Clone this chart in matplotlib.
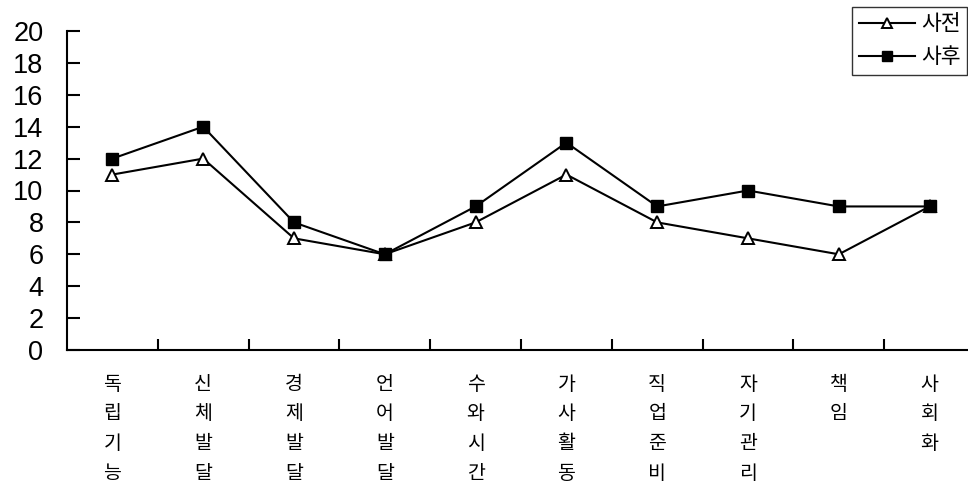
import matplotlib
matplotlib.use("Agg")
import matplotlib.pyplot as plt

categories = ["독립기능", "신체발달", "경제발달", "언어발달", "수와시간",
              "가사활동", "직업준비", "자기관리", "책임", "사회화"]
pre_values = [11, 12, 7, 6, 8, 11, 8, 7, 6, 9]
post_values = [12, 14, 8, 6, 9, 13, 9, 10, 9, 9]
series_names = ["사전", "사후"]
y_ticks = list(range(0, 21, 2))

plt.rcParams['font.family'] = ['Noto Sans CJK KR', 'DejaVu Sans']

fig = plt.figure(figsize=(9.68, 4.83), dpi=100)
ax = fig.add_axes([67/968, 1-350/483, 908/968, 319/483])

x = list(range(len(categories)))
ax.plot(x, pre_values, color='black', lw=1.5, marker='^', ms=9,
        mfc='white', mec='black', mew=1.4, label=series_names[0], zorder=3)
ax.plot(x, post_values, color='black', lw=1.5, marker='s', ms=8.5,
        mfc='black', mec='black', label=series_names[1], zorder=4)

ax.set_xlim(-0.5, len(categories) - 0.5)
ax.set_ylim(0, 20)
ax.set_yticks(y_ticks)
ax.set_yticklabels([str(v) for v in y_ticks], fontsize=19.5, family=['Liberation Sans'])

ax.set_xticks([i + 0.5 for i in range(len(categories))])
ax.set_xticklabels([])
ax.set_xticks(x, minor=True)
ax.set_xticklabels(["\n".join(c) for c in categories], minor=True,
                   fontsize=14, linespacing=1.55, va='top')
ax.tick_params(axis='x', which='minor', length=0, pad=17)
ax.tick_params(axis='x', which='major', direction='in', length=8, width=1.5)
ax.tick_params(axis='y', direction='in', length=9, width=1.5, pad=17)

for s in ['top', 'right']:
    ax.spines[s].set_visible(False)
for s in ['left', 'bottom']:
    ax.spines[s].set_linewidth(1.5)

leg = fig.legend(loc='upper right', bbox_to_anchor=(967/968, 1-7/483),
                 fontsize=15.5, frameon=True, fancybox=False, handlelength=2.6,
                 borderpad=0.3, labelspacing=0.5, handletextpad=0.3,
                 borderaxespad=0, markerscale=0.85)
leg.get_frame().set_edgecolor('black')
leg.get_frame().set_linewidth(1.0)

fig.savefig("out.png", dpi=100)
